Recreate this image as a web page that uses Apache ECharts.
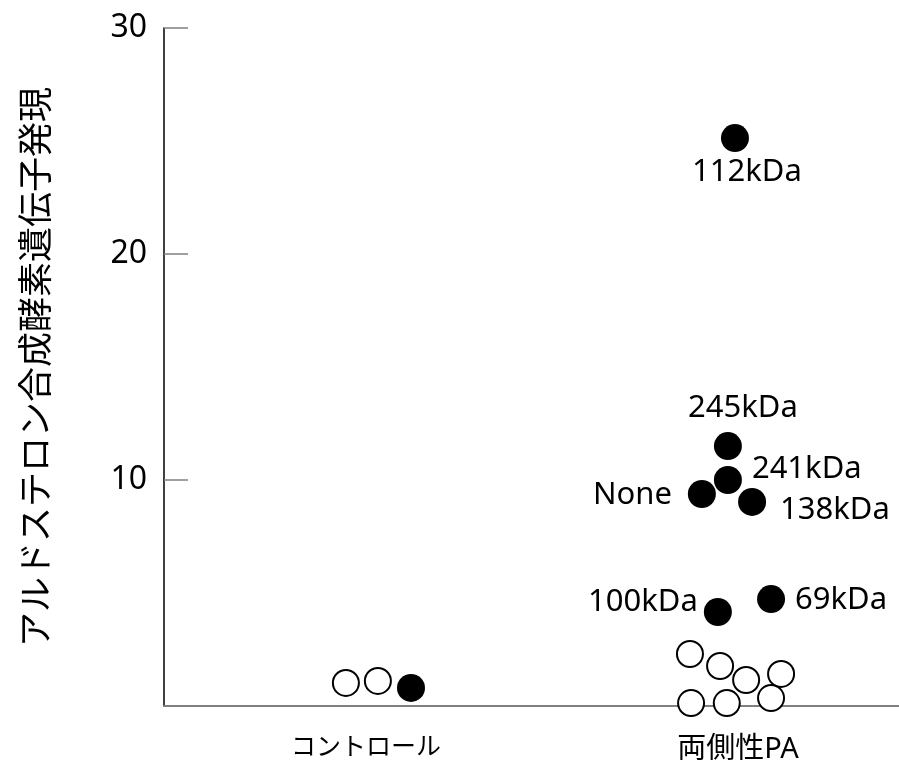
<!DOCTYPE html>
<html>
<head>
<meta charset="utf-8">
<script src="https://cdn.jsdelivr.net/npm/echarts@6/dist/echarts.min.js"></script>
<style>html,body{margin:0;padding:0;background:#fff}#c{width:899px;height:760px}</style>
</head>
<body>
<div id="c"></div>
<script>
// ---- data ----
const categories = ['コントロール', '両側性PA'];
const categoryPos = [0, 1];
const yTicks = [10, 20, 30];
const yAxisTitle = 'アルドステロン合成酵素遺伝子発現';
// control group (x = jitter around category 0)
const controlOpenX = [-0.054, 0.032];
const controlOpenY = [1.02, 1.11];
const controlFilledX = [0.121];
const controlFilledY = [0.80];
// bilateral PA group (x = jitter around category 1)
const paOpenX = [0.871, 0.952, 1.022, 1.116, 0.874, 0.970, 1.089];
const paOpenY = [2.30, 1.77, 1.15, 1.42, 0.13, 0.13, 0.35];
const paFilledX = [0.992, 0.973, 0.973, 0.903, 1.038, 0.946, 1.089];
const paFilledY = [25.13, 11.50, 10.00, 9.38, 9.03, 4.16, 4.73];
const paFilledLabels = ['112kDa', '245kDa', '241kDa', 'None', '138kDa', '100kDa', '69kDa'];

// ---- label placement (style) ----
const labelLayout = {
  '112kDa': { align: 'center', offset: [12, 34] },
  '245kDa': { align: 'center', offset: [15, -38] },
  '241kDa': { align: 'left', offset: [24, -11] },
  'None':   { align: 'right', offset: [-30, 1] },
  '138kDa': { align: 'left', offset: [28, 8] },
  '100kDa': { align: 'right', offset: [-20, -10] },
  '69kDa':  { align: 'left', offset: [24, 1] }
};

const FONT = "'Noto Sans', 'Noto Sans CJK JP', sans-serif";
const zip = (xs, ys) => xs.map((x, i) => [x, ys[i]]);

const openStyle = { color: '#ffffff', borderColor: '#000000', borderWidth: 2, opacity: 1 };
const filledStyle = { color: '#000000', opacity: 1 };

const filledData = paFilledX.map((x, i) => {
  const lay = labelLayout[paFilledLabels[i]];
  return {
    value: [x, paFilledY[i]],
    label: {
      show: true,
      formatter: paFilledLabels[i],
      position: 'inside',
      align: lay.align,
      verticalAlign: 'middle',
      offset: lay.offset,
      color: '#000',
      opacity: 1,
      fontSize: 31,
      fontFamily: FONT
    }
  };
});

const chart = echarts.init(document.getElementById('c'), null, { renderer: 'canvas' });
chart.setOption({
  animation: false,
  backgroundColor: '#ffffff',
  grid: { left: 164, right: 0, top: 28, bottom: 54, containLabel: false, outerBoundsMode: 'none' },
  xAxis: {
    type: 'value',
    min: -0.543,
    max: 1.433,
    splitLine: { show: false },
    axisTick: { show: false },
    axisLine: { show: true, onZero: false, lineStyle: { color: '#808080', width: 2 } },
    axisLabel: {
      customValues: categoryPos,
      margin: 29,
      formatter: v => {
        const i = categoryPos.indexOf(v);
        if (i < 0) return '';
        return i === 0 ? '{c|' + categories[i] + '}' : '{p|' + categories[i] + '}';
      },
      rich: {
        c: { fontSize: 25, fontFamily: FONT, color: '#000' },
        p: { fontSize: 29, fontFamily: FONT, color: '#000' }
      }
    }
  },
  yAxis: {
    type: 'value',
    min: 0,
    max: 30,
    interval: 10,
    name: yAxisTitle,
    nameLocation: 'middle',
    nameGap: 108,
    nameTextStyle: { fontSize: 35, fontFamily: FONT, color: '#000' },
    splitLine: { show: false },
    axisLine: { show: true, onZero: false, lineStyle: { color: '#000000', width: 1.5 } },
    axisTick: {
      show: true, inside: true, length: 24,
      customValues: yTicks,
      lineStyle: { color: '#808080', width: 1.5 }
    },
    axisLabel: {
      customValues: yTicks,
      margin: 17,
      fontSize: 32,
      fontFamily: FONT,
      color: '#000'
    }
  },
  series: [
    {
      type: 'scatter', name: 'control-open', symbol: 'circle', symbolSize: 26,
      itemStyle: openStyle, data: zip(controlOpenX, controlOpenY)
    },
    {
      type: 'scatter', name: 'control-filled', symbol: 'circle', symbolSize: 28,
      itemStyle: filledStyle, data: zip(controlFilledX, controlFilledY)
    },
    {
      type: 'scatter', name: 'pa-open', symbol: 'circle', symbolSize: 26,
      itemStyle: openStyle, data: zip(paOpenX, paOpenY)
    },
    {
      type: 'scatter', name: 'pa-filled', symbol: 'circle', symbolSize: 28,
      itemStyle: filledStyle, data: filledData
    }
  ]
});
</script>
</body>
</html>
